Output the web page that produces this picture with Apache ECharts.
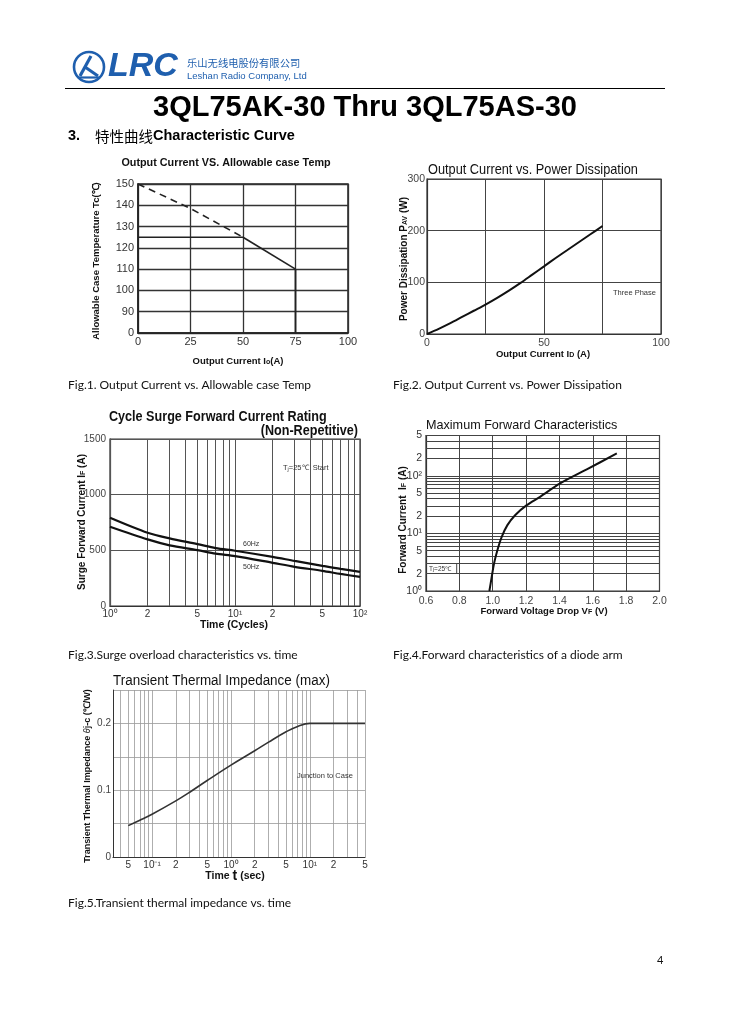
<!DOCTYPE html>
<html><head><meta charset="utf-8">
<script src="https://cdn.jsdelivr.net/npm/echarts@6.0.0/dist/echarts.min.js"></script>
<style>html,body{margin:0;padding:0;background:#fff}#c{width:730px;height:1032px}</style>
</head><body><div id="c"></div>
<script>
// ---------- Fig.1 data ----------
const fig1XTicks = [0, 25, 50, 75, 100];
const fig1AxisFloor = 80;              // broken axis bottom, labelled "0"
const fig1Dashed = [[0, 150], [25, 138.5], [50, 125]];
const fig1Solid = [[50, 125], [75, 110]];
const fig1Ref = [[0, 125], [50, 125]];
const fig1Drop = [[75, 110], [75, 80]];
// ---------- Fig.2 data ----------
const fig2Current = [0, 5, 10, 15, 20, 25, 30, 35, 40, 45, 50, 55, 60, 65, 70, 75];
const fig2Power = [0, 10, 21, 33, 45, 57, 70, 84, 99, 115, 131, 147, 162.5, 178, 193.5, 209];
// ---------- Fig.3 data ----------
const fig3Cycles = [1, 2, 3, 5, 7, 10, 20, 30, 50, 70, 100];
const fig3Surge60 = [793, 658, 607, 556, 520, 496, 442, 405, 361, 333, 307];
const fig3Surge50 = [712, 598, 545, 502, 470, 448, 388, 352, 316, 288, 262];
const fig3GridX = [1, 2, 3, 4, 5, 6, 7, 8, 9, 10, 20, 30, 40, 50, 60, 70, 80, 90, 100];
const fig3LabelX = [1, 2, 5, 10, 20, 50, 100];
const fig3LabelXText = ['10⁰', '2', '5', '10¹', '2', '5', '10²'];
// ---------- Fig.4 data ----------
const fig4Voltage = [0.98, 0.994, 1.008, 1.028, 1.054, 1.088, 1.134, 1.204, 1.284, 1.404, 1.564, 1.744];
const fig4Current = [1, 1.75, 3.0, 5.1, 8.7, 13.9, 20.7, 30.9, 43.1, 73.6, 129, 244];
const fig4GridY = [1, 2, 3, 4, 5, 6, 7, 8, 9, 10, 20, 30, 40, 50, 60, 70, 80, 90, 100, 200, 300, 400, 500];
const fig4LabelY = [1, 2, 5, 10, 20, 50, 100, 200, 500];
const fig4LabelYText = ['10⁰', '2', '5', '10¹', '2', '5', '10²', '2', '5'];
// ---------- Fig.5 data ----------
const fig5Time = [0.05, 0.07, 0.1, 0.2, 0.3, 0.5, 1, 2, 3, 5, 7, 10, 20, 50];
const fig5Z = [0.047, 0.055, 0.064, 0.084, 0.097, 0.1145, 0.1375, 0.159, 0.172, 0.1875, 0.1955, 0.2, 0.2, 0.2];
const fig5GridX = [0.04, 0.05, 0.06, 0.07, 0.08, 0.09, 0.1, 0.2, 0.3, 0.4, 0.5, 0.6, 0.7, 0.8, 0.9,
                   1, 2, 3, 4, 5, 6, 7, 8, 9, 10, 20, 30, 40, 50];
const fig5LabelX = [0.05, 0.1, 0.2, 0.5, 1, 2, 5, 10, 20, 50];
const fig5LabelXText = ['5', '10⁻¹', '2', '5', '10⁰', '2', '5', '10¹', '2', '5'];

const FONT = "'Liberation Sans', Arial, Helvetica, sans-serif";
const pairs = (xs, ys) => xs.map((x, i) => [x, ys[i]]);

function T(x, y, text, o) {
  o = o || {};
  const size = o.size || 10, weight = o.weight || 'normal', fill = o.fill || '#111';
  const fam = o.family || FONT;
  const rich = {};
  if (o.rich) {
    Object.keys(o.rich).forEach(k => {
      rich[k] = Object.assign({ fontSize: size, fontWeight: weight, fontFamily: fam, fill: fill }, o.rich[k]);
    });
  }
  return {
    type: 'text', x: x, y: y, rotation: o.rot || 0, scaleX: o.sx || 1, scaleY: 1, silent: true, z: 100,
    style: {
      text: text, fill: fill, fontSize: size, fontWeight: weight, fontStyle: o.fstyle || 'normal',
      fontFamily: fam, align: o.align || 'left', verticalAlign: 'middle',
      textAlign: o.align || 'left', textVerticalAlign: 'middle', rich: rich
    }
  };
}
const SUB = { s: { fontSize: 7, verticalAlign: 'bottom' } };

function gridMarkLine(key, values, labVals, labTexts, color, width, labOpts) {
  return {
    silent: true, symbol: ['none', 'none'], animation: false, z: 1,
    lineStyle: { color: color, width: width, type: 'solid' },
    emphasis: { disabled: true },
    label: { show: false },
    data: values.map(v => {
      const d = {}; d[key] = v;
      const i = labVals.indexOf(v);
      if (i >= 0) {
        d.label = Object.assign({ show: true, position: 'start', formatter: labTexts[i],
          color: '#333', fontSize: 10, fontFamily: FONT, distance: 3 }, labOpts || {});
      }
      return d;
    })
  };
}

const axBase = (grid, extra) => Object.assign({
  gridIndex: grid,
  axisLine: { show: true, lineStyle: { color: '#333', width: 1.2 } },
  axisTick: { show: false },
  axisLabel: { color: '#333', fontSize: 10, fontFamily: FONT },
  splitLine: { show: true, lineStyle: { color: '#444', width: 1 } }
}, extra);

const chart = echarts.init(document.getElementById('c'), null, { renderer: 'canvas', width: 730, height: 1032 });

const option = {
  animation: false,
  backgroundColor: '#fff',
  textStyle: { fontFamily: FONT },
  grid: [
    { left: 138, top: 184, width: 210, height: 149, show: true, borderColor: '#222', borderWidth: 1.5, containLabel: false, outerBoundsMode: 'none' },
    { left: 427, top: 179, width: 234, height: 155, show: true, borderColor: '#333', borderWidth: 1.2, containLabel: false, outerBoundsMode: 'none' },
    { left: 110, top: 439, width: 250, height: 167, show: true, borderColor: '#333', borderWidth: 1.2, containLabel: false, outerBoundsMode: 'none' },
    { left: 426, top: 435.5, width: 233.5, height: 155.5, show: true, borderColor: '#333', borderWidth: 1.2, containLabel: false, outerBoundsMode: 'none' },
    { left: 113, top: 690, width: 252, height: 167, show: false, containLabel: false, outerBoundsMode: 'none' }
  ],
  xAxis: [
    axBase(0, { type: 'value', min: fig1XTicks[0], max: fig1XTicks[fig1XTicks.length - 1], interval: 25,
      axisLine: { show: true, lineStyle: { color: '#222', width: 1.5 } },
      axisLabel: { color: '#333', fontSize: 11, margin: 3, fontFamily: FONT, formatter: v => String(v) },
      splitLine: { show: true, lineStyle: { color: '#333', width: 1.3 } } }),
    axBase(1, { type: 'value', min: 0, max: 100, interval: 25,
      axisLabel: { color: '#444', fontSize: 10.5, margin: 4, fontFamily: FONT, formatter: v => (v % 50 === 0 ? String(v) : '') } }),
    axBase(2, { type: 'log', logBase: 10, min: 1, max: 100, axisLabel: { show: false }, splitLine: { show: false } }),
    axBase(3, { type: 'value', min: 0.6, max: 2.0, interval: 0.2,
      axisLabel: { color: '#444', fontSize: 10.5, margin: 5, fontFamily: FONT, formatter: v => v.toFixed(1) } }),
    axBase(4, { type: 'log', logBase: 10, min: 0.032, max: 50, axisLabel: { show: false }, splitLine: { show: false } })
  ],
  yAxis: [
    axBase(0, { type: 'value', min: fig1AxisFloor, max: 150, interval: 10,
      axisLine: { show: true, lineStyle: { color: '#222', width: 1.5 } },
      axisLabel: { color: '#333', fontSize: 11, margin: 4, fontFamily: FONT, formatter: v => (v === fig1AxisFloor ? '0' : String(v)) },
      splitLine: { show: true, lineStyle: { color: '#333', width: 1.3 } } }),
    axBase(1, { type: 'value', min: 0, max: 300, interval: 100,
      axisLabel: { color: '#444', fontSize: 10.5, margin: 2, fontFamily: FONT, formatter: v => String(v) } }),
    axBase(2, { type: 'value', min: 0, max: 1500, interval: 500,
      axisLabel: { color: '#444', fontSize: 10, margin: 4, fontFamily: FONT, formatter: v => String(v) },
      splitLine: { show: true, lineStyle: { color: '#555', width: 1 } } }),
    axBase(3, { type: 'log', logBase: 10, min: 1, max: 500, axisLabel: { show: false }, splitLine: { show: false } }),
    axBase(4, { type: 'value', min: 0, max: 0.25, interval: 0.05,
      axisLine: { show: true, lineStyle: { color: '#333', width: 1 } },
      axisLabel: { color: '#444', fontSize: 10, margin: 2, fontFamily: FONT,
        formatter: v => { const r = Math.round(v * 100) / 100; return r === 0 ? '0' : (r === 0.1 || r === 0.2 ? r.toFixed(1) : ''); } },
      splitLine: { show: true, lineStyle: { color: '#999', width: 0.8 } } })
  ],
  series: [
    { type: 'line', xAxisIndex: 0, yAxisIndex: 0, data: fig1Dashed, symbol: 'none', silent: true, z: 3,
      lineStyle: { color: '#222', width: 1.6, type: [7, 5] } },
    { type: 'line', xAxisIndex: 0, yAxisIndex: 0, data: fig1Solid, symbol: 'none', silent: true, z: 3,
      lineStyle: { color: '#222', width: 1.7 } },
    { type: 'line', xAxisIndex: 0, yAxisIndex: 0, data: fig1Ref, symbol: 'none', silent: true, z: 3,
      lineStyle: { color: '#222', width: 1.5 } },
    { type: 'line', xAxisIndex: 0, yAxisIndex: 0, data: fig1Drop, symbol: 'none', silent: true, z: 3,
      lineStyle: { color: '#222', width: 1.8 } },
    { type: 'line', xAxisIndex: 1, yAxisIndex: 1, data: pairs(fig2Current, fig2Power), symbol: 'none', silent: true, z: 3,
      smooth: 0.3, lineStyle: { color: '#111', width: 2 } },
    { type: 'line', xAxisIndex: 2, yAxisIndex: 2, data: pairs(fig3Cycles, fig3Surge60), symbol: 'none', silent: true, z: 3,
      smooth: 0.3, lineStyle: { color: '#111', width: 2.2 },
      markLine: gridMarkLine('xAxis', fig3GridX, fig3LabelX, fig3LabelXText, '#555', 1, { distance: 3 }) },
    { type: 'line', xAxisIndex: 2, yAxisIndex: 2, data: pairs(fig3Cycles, fig3Surge50), symbol: 'none', silent: true, z: 3,
      smooth: 0.3, lineStyle: { color: '#111', width: 2.2 } },
    { type: 'line', xAxisIndex: 3, yAxisIndex: 3, data: pairs(fig4Voltage, fig4Current), symbol: 'none', silent: true, z: 3,
      smooth: 0.3, lineStyle: { color: '#111', width: 2 },
      markLine: gridMarkLine('yAxis', fig4GridY, fig4LabelY, fig4LabelYText, '#444', 1, { distance: 4, fontSize: 10.5 }) },
    { type: 'line', xAxisIndex: 4, yAxisIndex: 4, data: pairs(fig5Time, fig5Z), symbol: 'none', silent: true, z: 3,
      smooth: 0.4, lineStyle: { color: '#333', width: 1.6 },
      markLine: gridMarkLine('xAxis', fig5GridX, fig5LabelX, fig5LabelXText, '#999', 0.8, { distance: 3 }) }
  ],
  graphic: [
    // logo
    { type: 'circle', silent: true, shape: { cx: 89, cy: 67, r: 15 }, style: { fill: 'none', stroke: '#1f5fae', lineWidth: 2.6 } },
    { type: 'polyline', silent: true, shape: { points: [[80, 76], [91, 56]] }, style: { stroke: '#1f5fae', lineWidth: 3.2, fill: 'none' } },
    { type: 'polyline', silent: true, shape: { points: [[85, 67], [98, 76]] }, style: { stroke: '#1f5fae', lineWidth: 3, fill: 'none' } },
    { type: 'polyline', silent: true, shape: { points: [[78, 77.5], [100, 77.5]] }, style: { stroke: '#1f5fae', lineWidth: 2.2, fill: 'none' } },
    T(108, 67, 'LRC', { size: 34, weight: 'bold', fstyle: 'italic', fill: '#1f5fae' }),
    T(187, 63.5, '乐山无线电股份有限公司', { size: 10.3, family: "'Noto Sans CJK SC', sans-serif", fill: '#1f5fae' }),
    T(187, 76.5, 'Leshan Radio Company, Ltd', { size: 9.5, fill: '#1f5fae' }),
    { type: 'line', silent: true, shape: { x1: 65, y1: 88.5, x2: 665, y2: 88.5 }, style: { stroke: '#000', lineWidth: 1 } },
    T(365, 108, '3QL75AK-30 Thru 3QL75AS-30', { size: 29, weight: 'bold', align: 'center', fill: '#000' }),
    T(68, 136, '3.', { size: 14.5, weight: 'bold', fill: '#000' }),
    T(95, 136, '{c|特性曲线}{e|Characteristic Curve}', { size: 14.5, weight: 'bold', fill: '#000',
      rich: { c: { fontFamily: "'Noto Sans CJK SC', sans-serif", fontWeight: 'normal' }, e: {} } }),

    // Fig 1 texts
    T(226, 163, 'Output Current VS. Allowable case Temp', { size: 10.8, weight: 'bold', align: 'center' }),
    T(96, 261, 'Allowable Case Temperature Tc(℃)', { size: 9.5, weight: 'bold', align: 'center', rot: Math.PI / 2 }),
    T(238, 361, '{b|Output Current I}{s|o}{b|(A)}', { size: 9.5, weight: 'bold', align: 'center', rich: Object.assign({ b: {} }, SUB) }),

    // Fig 2 texts
    T(428, 170, 'Output Current vs. Power Dissipation', { size: 14.5, sx: 0.88 }),
    T(404, 259, '{b|Power Dissipation P}{s|AV}{b| (W)}', { size: 10, weight: 'bold', align: 'center', rot: Math.PI / 2, rich: Object.assign({ b: {} }, SUB) }),
    T(543, 354, '{b|Output Current I}{s|D}{b| (A)}', { size: 9.5, weight: 'bold', align: 'center', rich: Object.assign({ b: {} }, SUB) }),
    T(613, 292.5, 'Three Phase', { size: 7.5, fill: '#333' }),

    // Fig 3 texts
    T(109, 417, 'Cycle Surge Forward Current Rating', { size: 14, weight: 'bold', sx: 0.9 }),
    T(358, 431, '(Non-Repetitive)', { size: 14, weight: 'bold', sx: 0.9, align: 'right' }),
    T(82, 522, '{b|Surge Forward Current I}{s|F}{b| (A)}', { size: 10, weight: 'bold', align: 'center', rot: Math.PI / 2, rich: Object.assign({ b: {} }, SUB) }),
    T(234, 625, 'Time (Cycles)', { size: 10.5, weight: 'bold', align: 'center' }),
    T(283, 468, '{n|T}{j|j}{n|=25℃  Start}', { size: 7.5, fill: '#333', rich: { n: {}, j: { fontSize: 5.5, verticalAlign: 'bottom' } } }),
    T(243, 544.5, '60Hz', { size: 7, fill: '#333' }),
    T(243, 567, '50Hz', { size: 7, fill: '#333' }),

    // Fig 4 texts
    T(426, 425, 'Maximum Forward Characteristics', { size: 13, sx: 0.97 }),
    T(403, 520, '{b|Forward Current  I}{s|F}{b| (A)}', { size: 10, weight: 'bold', align: 'center', rot: Math.PI / 2, rich: Object.assign({ b: {} }, SUB) }),
    T(544, 611, '{b|Forward Voltage Drop V}{s|F}{b| (V)}', { size: 9.5, weight: 'bold', align: 'center', rich: Object.assign({ b: {} }, SUB) }),
    T(429, 569, '{n|T}{j|j}{n|=25℃}', { size: 6.5, fill: '#333', rich: { n: {}, j: { fontSize: 5, verticalAlign: 'bottom' } } }),
    { type: 'line', silent: true, z: 100, shape: { x1: 456.7, y1: 563.5, x2: 456.7, y2: 574 }, style: { stroke: '#444', lineWidth: 1 } },

    // Fig 5 texts
    T(113, 681, 'Transient Thermal Impedance (max)', { size: 14, sx: 0.96 }),
    T(87.5, 776, '{b|Transient Thermal Impedance }{i|θ}{b|j-c (℃/W)}', { size: 9, weight: 'bold', align: 'center', rot: Math.PI / 2,
      rich: { b: {}, i: { fontStyle: 'italic', fontWeight: 'normal' } } }),
    T(235, 876, '{b|Time }{t|t}{b| (sec)}', { size: 10.5, weight: 'bold', align: 'center', rich: { b: {}, t: { fontSize: 14 } } }),
    T(297, 776, 'Junction to Case', { size: 7.5, fill: '#333' }),

    // captions
    T(68, 385, 'Fig.1. Output Current vs. Allowable case Temp', { size: 12, family: "Lato, 'Open Sans', sans-serif", fill: '#111' }),
    T(393, 385, 'Fig.2. Output Current vs. Power Dissipation', { size: 12, family: "Lato, 'Open Sans', sans-serif", fill: '#111' }),
    T(68, 655, 'Fig.3.Surge overload characteristics vs. time', { size: 12, family: "Lato, 'Open Sans', sans-serif", fill: '#111' }),
    T(393, 655, 'Fig.4.Forward characteristics of a diode arm', { size: 12, family: "Lato, 'Open Sans', sans-serif", fill: '#111' }),
    T(68, 903, 'Fig.5.Transient thermal impedance vs. time', { size: 12, family: "Lato, 'Open Sans', sans-serif", fill: '#111' }),
    T(657, 960, '4', { size: 11, family: "Lato, 'Open Sans', sans-serif", fill: '#111' })
  ]
};
chart.setOption(option);
</script>
</body></html>
